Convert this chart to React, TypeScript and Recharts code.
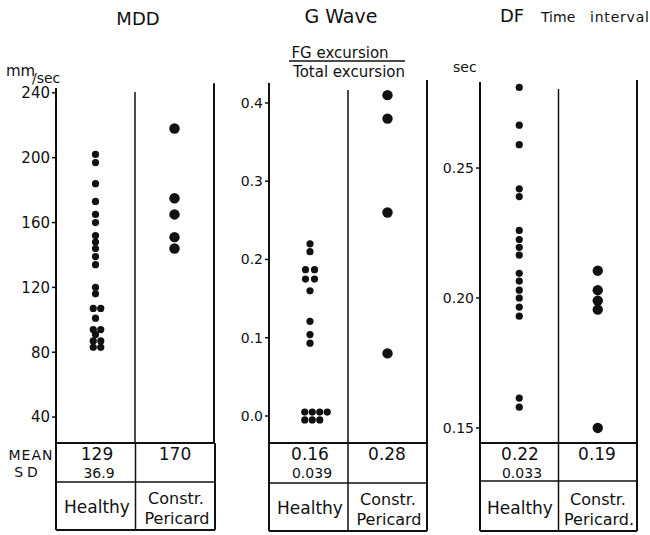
import React from "react";
import { ScatterChart, Scatter, XAxis, YAxis, ReferenceLine } from "recharts";

// ---- data ----
const groups = ["Healthy", "Constr. Pericard"];

const mddHealthy = [202, 197, 184, 173, 165, 160, 152, 148, 144, 139, 134, 120, 116, 107, 107, 101, 94, 94, 91, 87, 87, 83, 83];
const mddHealthyCol = [0, 0, 0, 0, 0, 0, 0, 0, 0, 0, 0, 0, 0, -0.3, 0.7, 0, -0.3, 0.7, 0, -0.3, 0.7, -0.3, 0.7];
const mddConstr = [218, 175, 165, 151, 144];
const mddTicks = [40, 80, 120, 160, 200, 240];

const gHealthy = [0.22, 0.21, 0.187, 0.187, 0.175, 0.175, 0.16, 0.121, 0.104, 0.093, 0.005, 0.005, 0.005, 0.005, -0.005, -0.005, -0.005];
const gHealthyCol = [0.2, 0.2, -0.4, 0.8, -0.4, 0.8, 0.2, 0.2, 0.2, 0.2, -0.5, 0.5, 1.5, 2.5, -0.5, 0.5, 1.5];
const gConstr = [0.41, 0.38, 0.26, 0.08];
const gTicks = [0, 0.1, 0.2, 0.3, 0.4];

const dfHealthy = [0.281, 0.2665, 0.259, 0.242, 0.239, 0.226, 0.2225, 0.2195, 0.2165, 0.2095, 0.2065, 0.203, 0.2, 0.1965, 0.193, 0.1615, 0.158];
const dfHealthyCol = [0, 0, 0, 0, 0, 0, 0, 0, 0, 0, 0, 0, 0, 0, 0, 0, 0];
const dfConstr = [0.2105, 0.203, 0.199, 0.1955, 0.15];
const dfTicks = [0.15, 0.2, 0.25];

const meanLabels = ["129", "170", "0.16", "0.28", "0.22", "0.19"];
const sdLabels = ["36.9", "0.039", "0.033"];

const FONT = "'DejaVu Sans', sans-serif";

type Panel = {
  left: number;
  width: number;
  yWidth: number;
  top: number;
  domain: [number, number];
  ticks: number[];
  fmt: (v: number) => string;
  healthy: number[];
  healthyCol: number[];
  constr: number[];
  midTop: number;
  rightTop: number;
  tickFont: number;
};

const panels: Panel[] = [
  {
    left: 0, width: 225, yWidth: 56, top: 88, domain: [24, 243], ticks: mddTicks,
    fmt: (v) => String(v), healthy: mddHealthy, healthyCol: mddHealthyCol, constr: mddConstr,
    midTop: 240.5, rightTop: 246, tickFont: 15,
  },
  {
    left: 220, width: 218, yWidth: 49, top: 83, domain: [-0.0345, 0.4255], ticks: gTicks,
    fmt: (v) => v.toFixed(1), healthy: gHealthy, healthyCol: gHealthyCol, constr: gConstr,
    midTop: 0.4166, rightTop: 0.4293, tickFont: 14,
  },
  {
    left: 430, width: 218, yWidth: 50, top: 82, domain: [0.1442, 0.2831], ticks: dfTicks,
    fmt: (v) => v.toFixed(2), healthy: dfHealthy, healthyCol: dfHealthyCol, constr: dfConstr,
    midTop: 0.2804, rightTop: 0.2839, tickFont: 14,
  },
];

const CH = 535;
const BOTTOM = 92;
const STEP = 0.095;

const dot = (r: number) => (props: any) => (
  <circle cx={props.cx} cy={props.cy} r={r} fill="#111" />
);

function PanelChart({ p }: { p: Panel }) {
  const hData = p.healthy.map((v, i) => ({ x: 0.5 + p.healthyCol[i] * STEP, y: v }));
  const cData = p.constr.map((v) => ({ x: 1.5, y: v }));
  const lo = p.domain[0];
  return (
    <div style={{ position: "absolute", left: p.left, top: 0 }}>
      <ScatterChart width={p.width} height={CH} margin={{ top: p.top, right: 11, bottom: BOTTOM, left: 0 }}>
        <XAxis type="number" dataKey="x" domain={[0, 2]} hide />
        <YAxis
          type="number"
          dataKey="y"
          domain={p.domain}
          allowDataOverflow
          ticks={p.ticks}
          interval={0}
          width={p.yWidth}
          tickFormatter={p.fmt}
          axisLine={{ stroke: "#111", strokeWidth: 2 }}
          tickLine={{ stroke: "#111", strokeWidth: 1.5 }}
          tickSize={4}
          tick={{ fill: "#111", fontSize: p.tickFont, fontFamily: FONT }}
        />
        <ReferenceLine
          segment={[{ x: 1, y: lo }, { x: 1, y: p.midTop }]}
          stroke="#111"
          strokeWidth={1.5}
          ifOverflow="visible"
        />
        <ReferenceLine
          segment={[{ x: 2, y: lo }, { x: 2, y: p.rightTop }]}
          stroke="#111"
          strokeWidth={2}
          ifOverflow="visible"
        />
        <Scatter name={groups[0]} data={hData} shape={dot(3.6)} isAnimationActive={false} />
        <Scatter name={groups[1]} data={cData} shape={dot(5.2)} isAnimationActive={false} />
      </ScatterChart>
    </div>
  );
}

function Table({ l, m, r, t, mid, b, mean1, mean2, sd, hx, cx }: any) {
  const s = "#111";
  return (
    <g>
      <line x1={l} y1={t} x2={r} y2={t} stroke={s} strokeWidth={2} />
      <line x1={l} y1={mid} x2={r} y2={mid} stroke={s} strokeWidth={1.5} />
      <line x1={l} y1={b} x2={r} y2={b} stroke={s} strokeWidth={2} />
      <line x1={l} y1={t} x2={l} y2={b} stroke={s} strokeWidth={2} />
      <line x1={m} y1={t} x2={m} y2={b} stroke={s} strokeWidth={1.5} />
      <line x1={r} y1={t} x2={r} y2={b} stroke={s} strokeWidth={2} />
      <text x={hx} y={t + 17} textAnchor="middle" fontSize={17}>{mean1}</text>
      <text x={hx + 2} y={t + 35} textAnchor="middle" fontSize={14}>{sd}</text>
      <text x={cx} y={t + 17} textAnchor="middle" fontSize={17}>{mean2}</text>
      <text x={hx} y={b - 17} textAnchor="middle" fontSize={17}>Healthy</text>
      <text x={cx + 1} y={b - 26} textAnchor="middle" fontSize={16}>Constr.</text>
      <text x={cx + 2} y={b - 6} textAnchor="middle" fontSize={16}>{m > 500 ? "Pericard." : "Pericard"}</text>
    </g>
  );
}

export default function App() {
  return (
    <div style={{ position: "absolute", left: 0, top: 0, width: 650, height: 535, background: "#fff", overflow: "hidden" }}>
      {panels.map((p, i) => (
        <PanelChart key={i} p={p} />
      ))}
      <svg
        width={650}
        height={535}
        style={{ position: "absolute", left: 0, top: 0, pointerEvents: "none" }}
        fontFamily={FONT}
        fill="#111"
      >
        {/* titles */}
        <text x={138} y={25} textAnchor="middle" fontSize={18}>MDD</text>
        <text x={341} y={23} textAnchor="middle" fontSize={19}>G Wave</text>
        <text x={500} y={22} fontSize={18}>DF</text>
        <text x={541} y={22} fontSize={14}>Time</text>
        <text x={590} y={22} fontSize={14} letterSpacing={0.8}>interval</text>
        {/* units */}
        <text x={6} y={76} fontSize={15}>mm</text>
        <text x={32} y={83} fontSize={14}>/sec</text>
        <text x={453} y={72} fontSize={14}>sec</text>
        <text x={340} y={58} textAnchor="middle" fontSize={15}>FG excursion</text>
        <line x1={289} y1={61} x2={405} y2={61} stroke="#111" strokeWidth={1.5} />
        <text x={349} y={77} textAnchor="middle" fontSize={15}>Total excursion</text>
        {/* row labels */}
        <text x={31} y={460} textAnchor="middle" fontSize={14} letterSpacing={1}>MEAN</text>
        <text x={28} y={477} textAnchor="middle" fontSize={14} letterSpacing={4}>SD</text>
        <Table l={56} m={135.5} r={215} t={443} mid={482} b={530} mean1={meanLabels[0]} mean2={meanLabels[1]} sd={sdLabels[0]} hx={97} cx={175} />
        <Table l={269} m={348} r={427} t={443} mid={483} b={531} mean1={meanLabels[2]} mean2={meanLabels[3]} sd={sdLabels[1]} hx={310} cx={387} />
        <Table l={480} m={558.5} r={637} t={443} mid={481} b={531} mean1={meanLabels[4]} mean2={meanLabels[5]} sd={sdLabels[2]} hx={520} cx={597} />
      </svg>
    </div>
  );
}
